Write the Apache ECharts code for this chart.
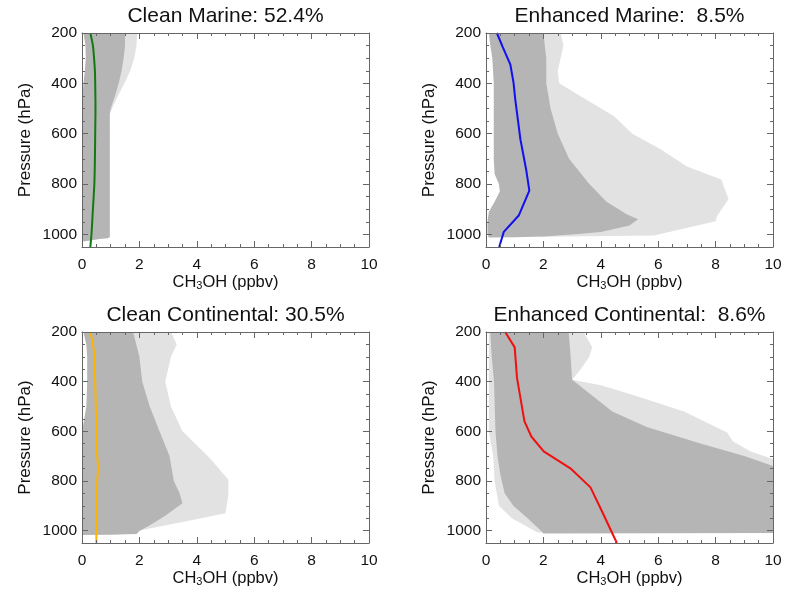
<!DOCTYPE html>
<html>
<head>
<meta charset="utf-8">
<script src="https://cdn.jsdelivr.net/npm/echarts@6/dist/echarts.min.js"></script>
<style>
html,body{margin:0;padding:0;background:#fff;}
#chart{width:787px;height:593px;}
</style>
</head>
<body>
<div id="chart"></div>
<script>
// ---------------- data (x = CH3OH ppbv, y = pressure hPa) ----------------
const panelTitles = ['Clean Marine: 52.4%', 'Enhanced Marine:  8.5%', 'Clean Continental: 30.5%', 'Enhanced Continental:  8.6%'];
const xTicks = [0, 2, 4, 6, 8, 10];
const yTicks = [200, 400, 600, 800, 1000];

// mean profiles
const cleanMarineMean = [[0.29,200],[0.38,250],[0.42,300],[0.45,350],[0.46,400],[0.47,500],[0.46,600],[0.45,700],[0.43,800],[0.38,900],[0.33,1000],[0.29,1050]];
const enhancedMarineMean = [[0.38,200],[0.58,255],[0.85,326],[0.96,398],[1.02,465],[1.2,623],[1.4,743],[1.51,826],[1.14,925],[0.62,990],[0.46,1050]];
const cleanContinentalMean = [[0.29,200],[0.38,250],[0.43,300],[0.46,400],[0.48,500],[0.5,600],[0.53,700],[0.56,750],[0.53,800],[0.51,900],[0.5,1000],[0.5,1050]];
const enhancedContinentalMean = [[0.67,200],[1.0,262],[1.08,385],[1.34,560],[1.58,621],[2.01,681],[2.94,749],[3.64,826],[4.04,922],[4.56,1050]];

// dense envelope of individual profiles
const cleanMarineCore = [[0.05,200],[0.12,250],[0.13,300],[0.1,350],[0.05,400],[0.02,450],[0,500],[0,1000],[0.02,1028],[0.3,1024],[0.6,1018],[0.9,1015],[0.97,1010],[0.97,520],[1.0,500],[1.15,450],[1.28,400],[1.38,350],[1.45,300],[1.5,250],[1.5,200]];
const enhancedMarineCore = [[0.1,200],[0.15,250],[0.22,300],[0.27,400],[0.27,700],[0.3,760],[0.45,800],[0.48,830],[0.3,870],[0.1,910],[0.05,950],[0.05,1000],[0.1,1012],[1.0,1011],[2.0,1008],[3.0,1000],[4.0,990],[5.0,965],[5.3,940],[4.9,920],[4.2,870],[3.6,800],[2.9,700],[2.5,600],[2.25,500],[2.1,400],[2.1,300],[2.0,200]];
const cleanContinentalCore = [[0.05,200],[0.15,250],[0.18,300],[0.18,400],[0.15,500],[0.08,550],[0,600],[0,1018],[1.0,1017],[1.9,1014],[2.0,1002],[2.35,980],[2.9,940],[3.5,890],[3.4,850],[3.2,800],[3.05,700],[2.7,600],[2.36,500],[2.1,400],[2.0,300],[1.78,200]];
const enhancedContinentalCore = [[0.15,200],[0.2,300],[0.28,400],[0.33,600],[0.4,700],[0.5,775],[0.65,850],[0.95,900],[1.45,950],[1.95,1005],[2.0,1012],[10,1010],[10,740],[9.0,700],[7.5,650],[5.6,583],[4.4,520],[3.3,420],[3.0,392],[2.95,300],[2.88,200]];

// sparse outer fringe of individual profiles
const cleanMarineFringe = [[0.5,200],[1.92,200],[1.9,250],[1.82,300],[1.68,350],[1.48,400],[1.25,450],[1.05,500],[0.97,520],[0.5,520]];
const enhancedMarineFringe = [[1.0,200],[2.6,200],[2.7,250],[2.6,300],[2.5,350],[2.55,400],[3.5,465],[4.45,530],[5.1,600],[6.1,663],[7.0,730],[8.2,782],[8.45,860],[8.05,927],[8.0,948],[5.85,1004],[2.0,1009],[1.0,1000]];
const cleanContinentalFringe = [[1.0,200],[3.1,200],[3.3,250],[3.1,300],[2.9,400],[3.1,500],[3.5,600],[4.45,708],[5.1,795],[5.1,856],[5.0,930],[3.5,965],[2.0,1000],[1.0,1000]];
const enhancedContinentalFringe = [[0.1,200],[3.4,200],[3.7,260],[3.6,300],[3.3,350],[3.0,392],[4.0,415],[5.1,453],[6.9,520],[8.4,605],[8.6,640],[9.2,680],[10,712],[10,1010],[1.8,1008],[0.9,950],[0.45,900],[0.3,800],[0.25,700],[0.1,600]];

const meanColors = ['#127a12', '#1010f0', '#ffb400', '#f01010'];

// ---------------- build ----------------
const means = [cleanMarineMean, enhancedMarineMean, cleanContinentalMean, enhancedContinentalMean];
const cores = [cleanMarineCore, enhancedMarineCore, cleanContinentalCore, enhancedContinentalCore];
const fringes = [cleanMarineFringe, enhancedMarineFringe, cleanContinentalFringe, enhancedContinentalFringe];

const rects = [
  {left: 82, top: 33, width: 287, height: 214},
  {left: 486, top: 33, width: 287, height: 214},
  {left: 82, top: 332, width: 287, height: 211},
  {left: 486, top: 332, width: 287, height: 211}
];
const titleTops = [6, 6, 305, 305];

const FONT = '"Liberation Sans", Arial, Helvetica, sans-serif';
const AXC = '#666';

const grid = [], xAxis = [], yAxis = [], series = [], title = [];

function polySeries(poly, color, xi, yi, z) {
  return {
    type: 'custom', xAxisIndex: xi, yAxisIndex: yi, z: z, silent: true,
    data: [[poly[0][0], poly[0][1]]],
    renderItem: function (params, api) {
      return {type: 'polygon', shape: {points: poly.map(p => api.coord(p))}, style: {fill: color}};
    }
  };
}

for (let i = 0; i < 4; i++) {
  const r = rects[i];
  grid.push(Object.assign({outerBoundsMode: 'none', containLabel: false}, r));
  grid.push(Object.assign({outerBoundsMode: 'none', containLabel: false}, r));
  const g0 = 2 * i, g1 = 2 * i + 1;
  const xBase = {
    type: 'value', min: xTicks[0], max: xTicks[xTicks.length - 1], interval: xTicks[1] - xTicks[0],
    z: 5,
    axisLine: {show: true, onZero: false, lineStyle: {color: AXC, width: 1}},
    axisTick: {show: true, inside: true, length: 6, lineStyle: {color: AXC}},
    minorTick: {show: true, splitNumber: 4, length: 3, lineStyle: {color: AXC}},
    splitLine: {show: false}, minorSplitLine: {show: false}
  };
  const xi = xAxis.length;
  xAxis.push(Object.assign({}, xBase, {
    gridIndex: g0, position: 'bottom',
    axisLabel: {show: true, fontSize: 15.5, fontFamily: FONT, color: '#111', margin: 10},
    name: '{a|CH}{s|3}{a|OH (ppbv)}', nameLocation: 'middle', nameGap: 24,
    nameTextStyle: {rich: {
      a: {fontSize: 16.5, fontFamily: FONT, color: '#111', lineHeight: 19},
      s: {fontSize: 11, fontFamily: FONT, color: '#111', verticalAlign: 'bottom', lineHeight: 12}
    }}
  }));
  xAxis.push(Object.assign({}, xBase, {gridIndex: g0, position: 'top', axisLabel: {show: false}}));
  xAxis.push({type: 'value', gridIndex: g1, min: 0, max: 10, show: false});

  const yBase = {
    type: 'value', inverse: true, min: yTicks[0], max: 1050, interval: yTicks[1] - yTicks[0],
    z: 5,
    axisLine: {show: true, onZero: false, lineStyle: {color: AXC, width: 1}},
    axisTick: {show: true, inside: true, length: 6, lineStyle: {color: AXC}},
    splitLine: {show: false}
  };
  const yi = yAxis.length;
  yAxis.push(Object.assign({}, yBase, {
    gridIndex: g0, position: 'left',
    axisLabel: {show: true, fontSize: 15.5, fontFamily: FONT, color: '#111', margin: 5, showMaxLabel: false,
      formatter: v => (yTicks.indexOf(v) >= 0 ? String(v) : '')},
    name: 'Pressure (hPa)', nameLocation: 'middle', nameGap: 48, nameRotate: 90,
    nameTextStyle: {fontSize: 17, fontFamily: FONT, color: '#111'}
  }));
  yAxis.push(Object.assign({}, yBase, {gridIndex: g0, position: 'right', axisLabel: {show: false}}));
  const yMinor = {
    type: 'value', inverse: true, min: 200, max: 1050, interval: 50, gridIndex: g1, z: 5,
    axisLine: {show: false}, axisLabel: {show: false}, splitLine: {show: false},
    axisTick: {show: true, inside: true, length: 3, lineStyle: {color: AXC}}
  };
  yAxis.push(Object.assign({}, yMinor, {position: 'left'}));
  yAxis.push(Object.assign({}, yMinor, {position: 'right'}));

  series.push(polySeries(fringes[i], '#e2e2e2', xi, yi, 1));
  series.push(polySeries(cores[i], '#b5b5b5', xi, yi, 2));
  series.push({
    type: 'line', xAxisIndex: xi, yAxisIndex: yi, z: 3, data: means[i],
    smooth: (i === 0 || i === 2) ? 0.3 : false, showSymbol: false, silent: true,
    lineStyle: {color: meanColors[i], width: 2}
  });

  title.push({
    text: panelTitles[i], left: r.left + r.width / 2, top: titleTops[i], textAlign: 'center', padding: 0,
    textStyle: {fontSize: 21, fontWeight: 'normal', fontFamily: FONT, color: '#111'}
  });
}

const chart = echarts.init(document.getElementById('chart'), null, {renderer: 'canvas'});
chart.setOption({
  backgroundColor: '#fff', animation: false,
  title: title, grid: grid, xAxis: xAxis, yAxis: yAxis, series: series
});
</script>
</body>
</html>
